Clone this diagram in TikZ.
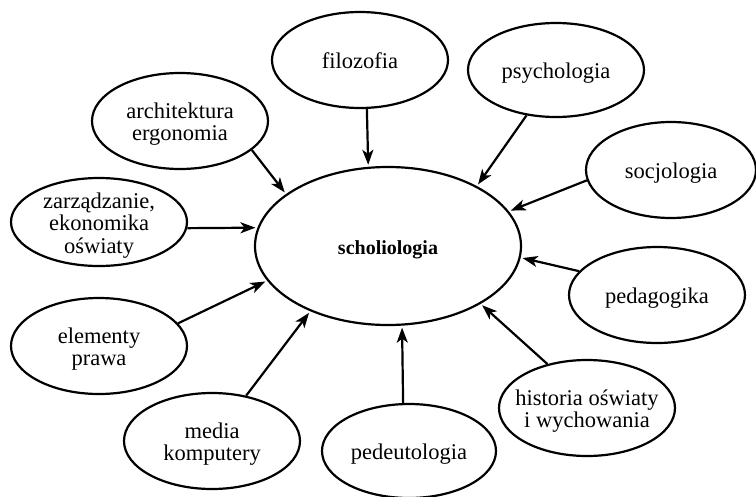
\documentclass[tikz,border=0pt]{standalone}
\usepackage{fontspec}
\setmainfont{Liberation Serif}
\usetikzlibrary{shapes.geometric,arrows.meta}
\tikzset{
  bub/.style={draw, ellipse, line width=2.2pt, inner sep=0pt,
    minimum width=176pt, minimum height=96pt,
    font=\fontsize{22.5}{22}\selectfont},
  link/.style={line width=2.2pt, shorten >=2pt, -{Stealth[length=15pt,width=11pt,inset=4pt]}}
}
\newcommand{\bt}[1]{\makebox[0pt]{\raisebox{-9.5pt}[0pt][0pt]{\begin{tabular}{@{}c@{}}#1\end{tabular}}}}
\begin{document}
\begin{tikzpicture}[x=1pt,y=-1pt]
\useasboundingbox (0,0) rectangle (756,496);
\node[bub, minimum width=266pt, minimum height=158pt, font=\fontsize{20}{22}\selectfont\bfseries] (c) at (388,246) {\bt{scholiologia}};
\node[bub] (filo) at (360,60) {\bt{filozofia}};
\node[bub, minimum height=94pt] (psy) at (556,70) {\bt{psychologia}};
\node[bub, minimum width=170pt] (soc) at (671,170) {\bt{socjologia}};
\node[bub] (ped) at (657,295) {\bt{pedagogika}};
\node[bub] (hist) at (587,408) {\bt{historia oświaty\\i wychowania}};
\node[bub, minimum width=174pt, minimum height=94pt] (pdt) at (409,451) {\bt{pedeutologia}};
\node[bub] (med) at (212,441) {\bt{media\\komputery}};
\node[bub] (ele) at (99,346) {\bt{elementy\\prawa}};
\node[bub, minimum height=88pt] (zar) at (99,222) {\bt{zarządzanie,\\ekonomika\\oświaty}};
\node[bub] (arch) at (180,121) {\bt{architektura\\ergonomia}};

\draw[link] (filo.-82) -- (c.104.5);
\draw[link] (psy.237) -- (c.34);
\draw[link] (soc.187.5) -- (c.16);
\draw[link] (ped.163) -- (c.-5);
\draw[link] (hist.132) -- (c.-32);
\draw[link] (pdt.97.6) -- (c.-80);
\draw[link] (med.53.7) -- (c.220.4);
\draw[link] (ele.16.9) -- (c.196.5);
\draw[link] (zar.-4.5) -- (c.172.9);
\draw[link] (arch.-22.8) -- (c.153.6);
\end{tikzpicture}
\end{document}
